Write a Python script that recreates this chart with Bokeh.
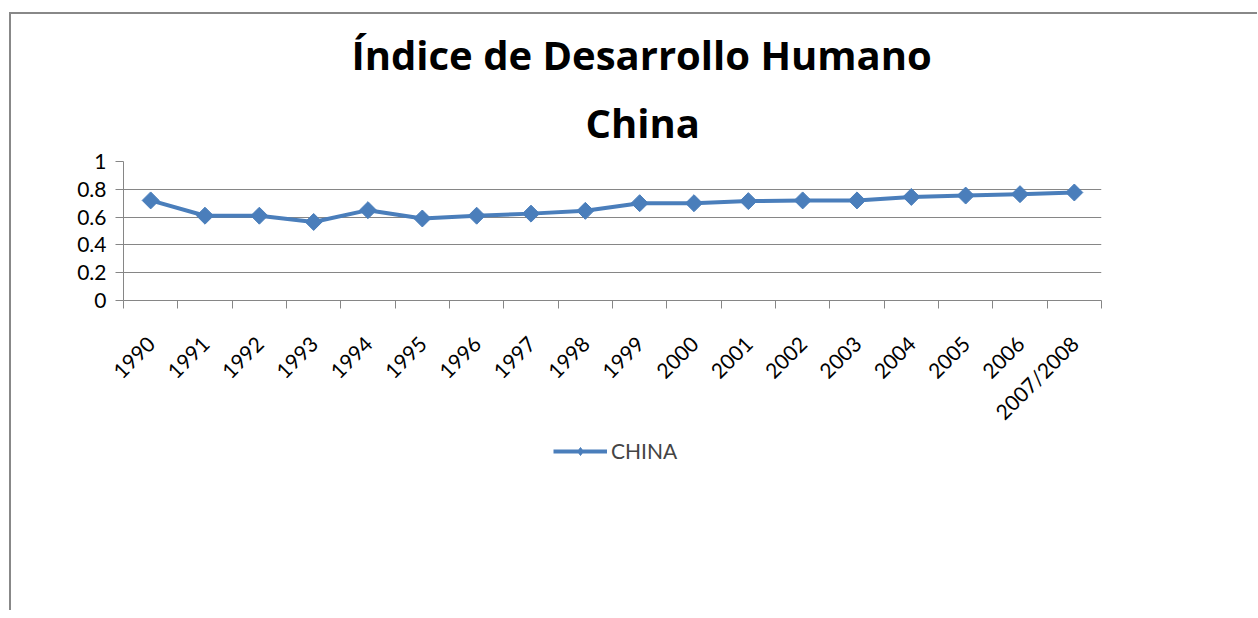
import math
from bokeh.plotting import figure
from bokeh.layouts import column
from bokeh.models import (FixedTicker, NumeralTickFormatter, Legend, LegendItem,
                          Title, ColumnDataSource, Range1d)
from bokeh.embed import file_html
from bokeh.resources import INLINE

# ---- data ----
years = ["1990", "1991", "1992", "1993", "1994", "1995", "1996", "1997", "1998",
         "1999", "2000", "2001", "2002", "2003", "2004", "2005", "2006", "2007/2008"]
hdi = [0.72, 0.61, 0.61, 0.565, 0.65, 0.59, 0.61, 0.625, 0.645,
       0.70, 0.70, 0.715, 0.72, 0.72, 0.745, 0.755, 0.765, 0.777]
y_ticks = [0, 0.2, 0.4, 0.6, 0.8, 1.0]
series_name = "CHINA"
title_lines = ["Índice de Desarrollo Humano", "China"]

idx = list(range(len(years)))
src = ColumnDataSource(dict(x=idx, y=hdi))

FONT = "Lato"
TFONT = "Open Sans"
BLUE = "#4A7EBB"
GRID = "#868686"

p = figure(width=1246, height=421, output_backend="svg", toolbar_location=None,
           x_range=Range1d(-0.5, len(years) - 0.5), y_range=Range1d(0, 1),
           min_border_left=112, min_border_right=156, min_border_top=147,
           min_border_bottom=135)
p.outline_line_color = None
p.background_fill_color = "white"
p.border_fill_color = "white"

# title (two lines; first added sits closest to the plot)
t2 = Title(text=title_lines[1], align="left", text_font=TFONT, text_font_size="40px",
           text_font_style="bold", offset=462, standoff=23, text_color="black")
t1 = Title(text=title_lines[0], align="left", text_font=TFONT, text_font_size="40px",
           text_font_style="bold", offset=228, standoff=0, text_color="black",
           text_line_height=0.9)
p.title = None
p.add_layout(t2, "above")
p.add_layout(t1, "above")

# x axis: labels at category centers, ticks at boundaries
xa = p.xaxis[0]
xa.ticker = FixedTicker(ticks=idx, minor_ticks=[i - 0.5 for i in range(len(years) + 1)])
xa.major_label_overrides = {i: years[i] for i in idx}
xa.major_label_orientation = math.pi / 4
xa.major_tick_line_color = None
xa.major_tick_out = 0
xa.major_tick_in = 0
xa.minor_tick_line_color = GRID
xa.minor_tick_out = 8
xa.minor_tick_in = 0
xa.axis_line_color = GRID
xa.major_label_text_font = FONT
xa.major_label_text_font_size = "21px"
xa.major_label_text_color = "black"
xa.major_label_standoff = 31

ya = p.yaxis[0]
ya.ticker = FixedTicker(ticks=y_ticks)
ya.formatter = NumeralTickFormatter(format="0.[0]")
ya.axis_line_color = GRID
ya.major_tick_line_color = GRID
ya.major_tick_out = 8
ya.major_tick_in = 0
ya.minor_tick_line_color = None
ya.major_label_text_font = FONT
ya.major_label_text_font_size = "21px"
ya.major_label_text_color = "black"
ya.major_label_standoff = 9

p.xgrid.grid_line_color = None
p.ygrid.grid_line_color = GRID
p.ygrid.grid_line_width = 1

p.line("x", "y", source=src, line_color=BLUE, line_width=4)
p.scatter("x", "y", source=src, marker="square", angle=math.pi / 4, size=12,
          fill_color=BLUE, line_color=BLUE)

# legend strip below the chart (its own series renderers lie outside its view)
lf = figure(width=1246, height=175, output_backend="svg", toolbar_location=None,
            x_range=Range1d(-0.5, len(years) - 0.5), y_range=Range1d(10, 11),
            min_border=0)
lf.axis.visible = False
lf.grid.visible = False
lf.outline_line_color = None
lf.border_fill_color = "white"
lf_line = lf.line("x", "y", source=src, line_color=BLUE, line_width=4)
lf_pts = lf.scatter("x", "y", source=src, marker="diamond", size=18,
                    fill_color=BLUE, line_color=BLUE)
legend = Legend(items=[LegendItem(label=series_name, renderers=[lf_line, lf_pts])],
                location=(430, 147), orientation="horizontal",
                glyph_width=54, glyph_height=20, label_standoff=4,
                label_text_font=FONT, label_text_font_size="21px",
                border_line_color=None, background_fill_alpha=0,
                padding=2, margin=0)
lf.add_layout(legend, "center")

layout = column(p, lf, spacing=0)
layout.styles = {"border-top": "2px solid #888888", "border-left": "2px solid #888888",
                 "margin-top": "12px", "margin-left": "9px"}

open("out.html", "w").write(file_html(layout, INLINE))
